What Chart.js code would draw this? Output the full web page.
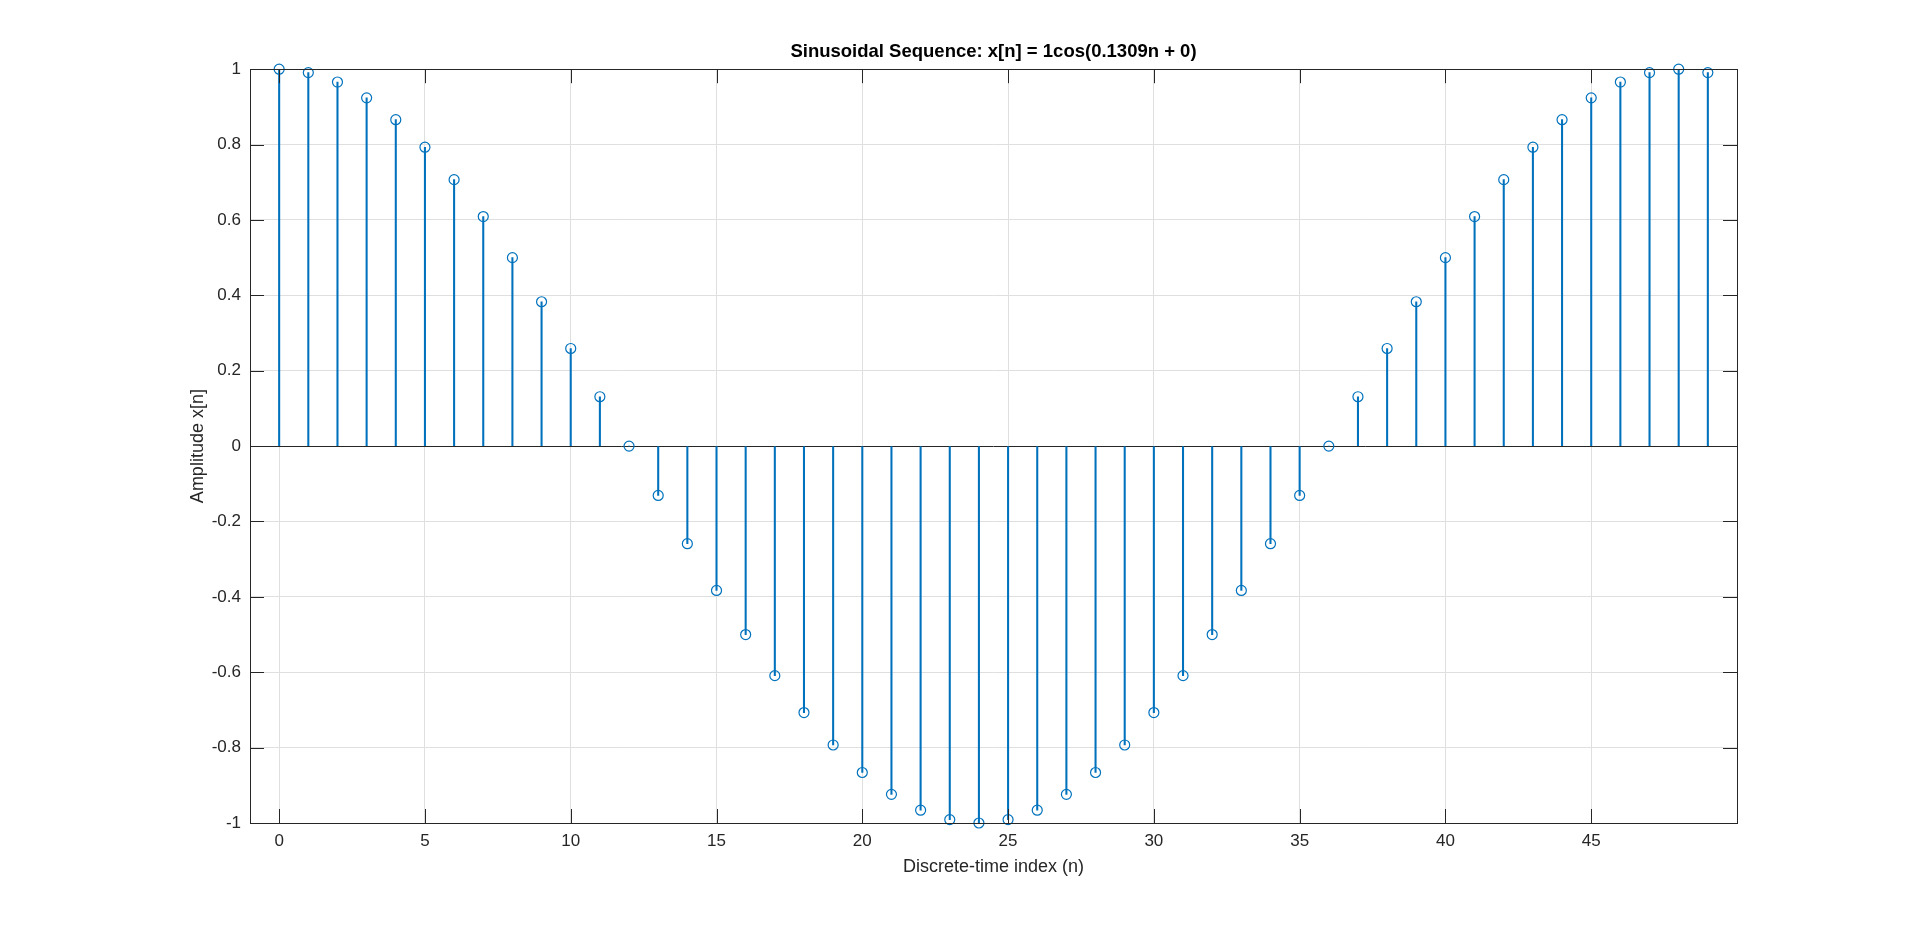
<!DOCTYPE html>
<html>
<head>
<meta charset="utf-8">
<script src="https://cdn.jsdelivr.net/npm/chart.js@4/dist/chart.umd.min.js"></script>
<style>
  html, body { margin: 0; padding: 0; background: #fff; }
  #wrap { width: 1920px; height: 926px; }
</style>
</head>
<body>
<div id="wrap"><canvas id="stemChart" width="1920" height="926"></canvas></div>
<script>
// ---- data: n index and x[n] samples ----
const nIndex = [
  0, 1, 2, 3, 4, 5, 6, 7, 8, 9,
  10, 11, 12, 13, 14, 15, 16, 17, 18, 19,
  20, 21, 22, 23, 24, 25, 26, 27, 28, 29,
  30, 31, 32, 33, 34, 35, 36, 37, 38, 39,
  40, 41, 42, 43, 44, 45, 46, 47, 48, 49
];
const amplitude = [
  1, 0.991, 0.966, 0.924, 0.866, 0.793, 0.707, 0.609, 0.5, 0.383,
  0.259, 0.131, 0, -0.131, -0.259, -0.383, -0.5, -0.609, -0.707, -0.793,
  -0.866, -0.924, -0.966, -0.991, -1, -0.991, -0.966, -0.924, -0.866, -0.793,
  -0.707, -0.609, -0.5, -0.383, -0.259, -0.131, 0, 0.131, 0.259, 0.383,
  0.5, 0.609, 0.707, 0.793, 0.866, 0.924, 0.966, 0.991, 1, 0.991
];
const xTicks = [0, 5, 10, 15, 20, 25, 30, 35, 40, 45];
const yTicks = [-1, -0.8, -0.6, -0.4, -0.2, 0, 0.2, 0.4, 0.6, 0.8, 1];

const points = nIndex.map((n, i) => ({ x: n, y: amplitude[i] }));

const STEM = "#0072BD";
const AXIS = "#262626";
const GRID = "#dfdfdf";
const FONT = "'Liberation Sans', Arial, Helvetica, sans-serif";

// MATLAB style box with inward ticks
const boxPlugin = {
  id: "matlabBox",
  afterDatasetsDraw(chart) {
    const { ctx, chartArea: a, scales } = chart;
    const len = 14;
    ctx.save();
    ctx.strokeStyle = AXIS;
    ctx.lineWidth = 1;
    ctx.beginPath();
    xTicks.forEach(v => {
      const px = Math.round(scales.x.getPixelForValue(v)) + 0.5;
      ctx.moveTo(px, a.bottom); ctx.lineTo(px, a.bottom - len);
      ctx.moveTo(px, a.top); ctx.lineTo(px, a.top + len);
    });
    yTicks.forEach(v => {
      const py = Math.round(scales.y.getPixelForValue(v)) + 0.5;
      ctx.moveTo(a.left, py); ctx.lineTo(a.left + len, py);
      ctx.moveTo(a.right, py); ctx.lineTo(a.right - len, py);
    });
    ctx.stroke();
    ctx.strokeRect(Math.round(a.left) + 0.5, Math.round(a.top) + 0.5,
      Math.round(a.right - a.left), Math.round(a.bottom - a.top));
    ctx.restore();
  }
};

new Chart(document.getElementById("stemChart").getContext("2d"), {
  type: "bar",
  data: {
    datasets: [
      {
        type: "line",
        label: "markers",
        data: points,
        showLine: false,
        clip: false,
        pointStyle: "circle",
        pointRadius: 5,
        pointBorderWidth: 1.2,
        pointBorderColor: STEM,
        pointBackgroundColor: "rgba(0,0,0,0)",
        order: 0
      },
      {
        type: "bar",
        label: "stems",
        data: points,
        backgroundColor: STEM,
        borderWidth: 0,
        barThickness: 1.4,
        order: 1
      }
    ]
  },
  options: {
    responsive: false,
    animation: false,
    devicePixelRatio: 1,
    layout: { padding: { top: 30, left: 180, right: 183, bottom: 40 } },
    plugins: {
      legend: { display: false },
      tooltip: { enabled: false },
      title: {
        display: true,
        fullSize: false,
        text: "Sinusoidal Sequence: x[n] = 1cos(0.1309n + 0)",
        color: "#000",
        font: { family: FONT, size: 18.5, weight: "bold" },
        padding: { top: 11, bottom: 6 }
      }
    },
    scales: {
      x: {
        type: "linear",
        min: -1,
        max: 50,
        offset: false,
        afterBuildTicks: s => { s.ticks = xTicks.map(v => ({ value: v })); },
        afterFit: s => { s.height = 63; },
        ticks: {
          color: AXIS,
          font: { family: FONT, size: 17 },
          padding: 8,
          maxRotation: 0,
          callback: v => String(v)
        },
        grid: { color: GRID, drawTicks: false, offset: false },
        border: { display: false },
        title: {
          display: true,
          text: "Discrete-time index (n)",
          color: AXIS,
          font: { family: FONT, size: 18 },
          padding: { top: 0, bottom: 8 }
        }
      },
      y: {
        type: "linear",
        min: -1,
        max: 1,
        afterBuildTicks: s => { s.ticks = yTicks.map(v => ({ value: v })); },
        afterFit: s => { s.width = 70; },
        ticks: {
          color: AXIS,
          font: { family: FONT, size: 17 },
          padding: 9,
          callback: v => String(v)
        },
        grid: {
          color: c => (c.tick && c.tick.value === 0 ? AXIS : GRID),
          drawTicks: false
        },
        border: { display: false },
        title: {
          display: true,
          text: "Amplitude x[n]",
          color: AXIS,
          font: { family: FONT, size: 18 },
          padding: { top: 7, bottom: 0 }
        }
      }
    }
  },
  plugins: [boxPlugin]
});
</script>
</body>
</html>
